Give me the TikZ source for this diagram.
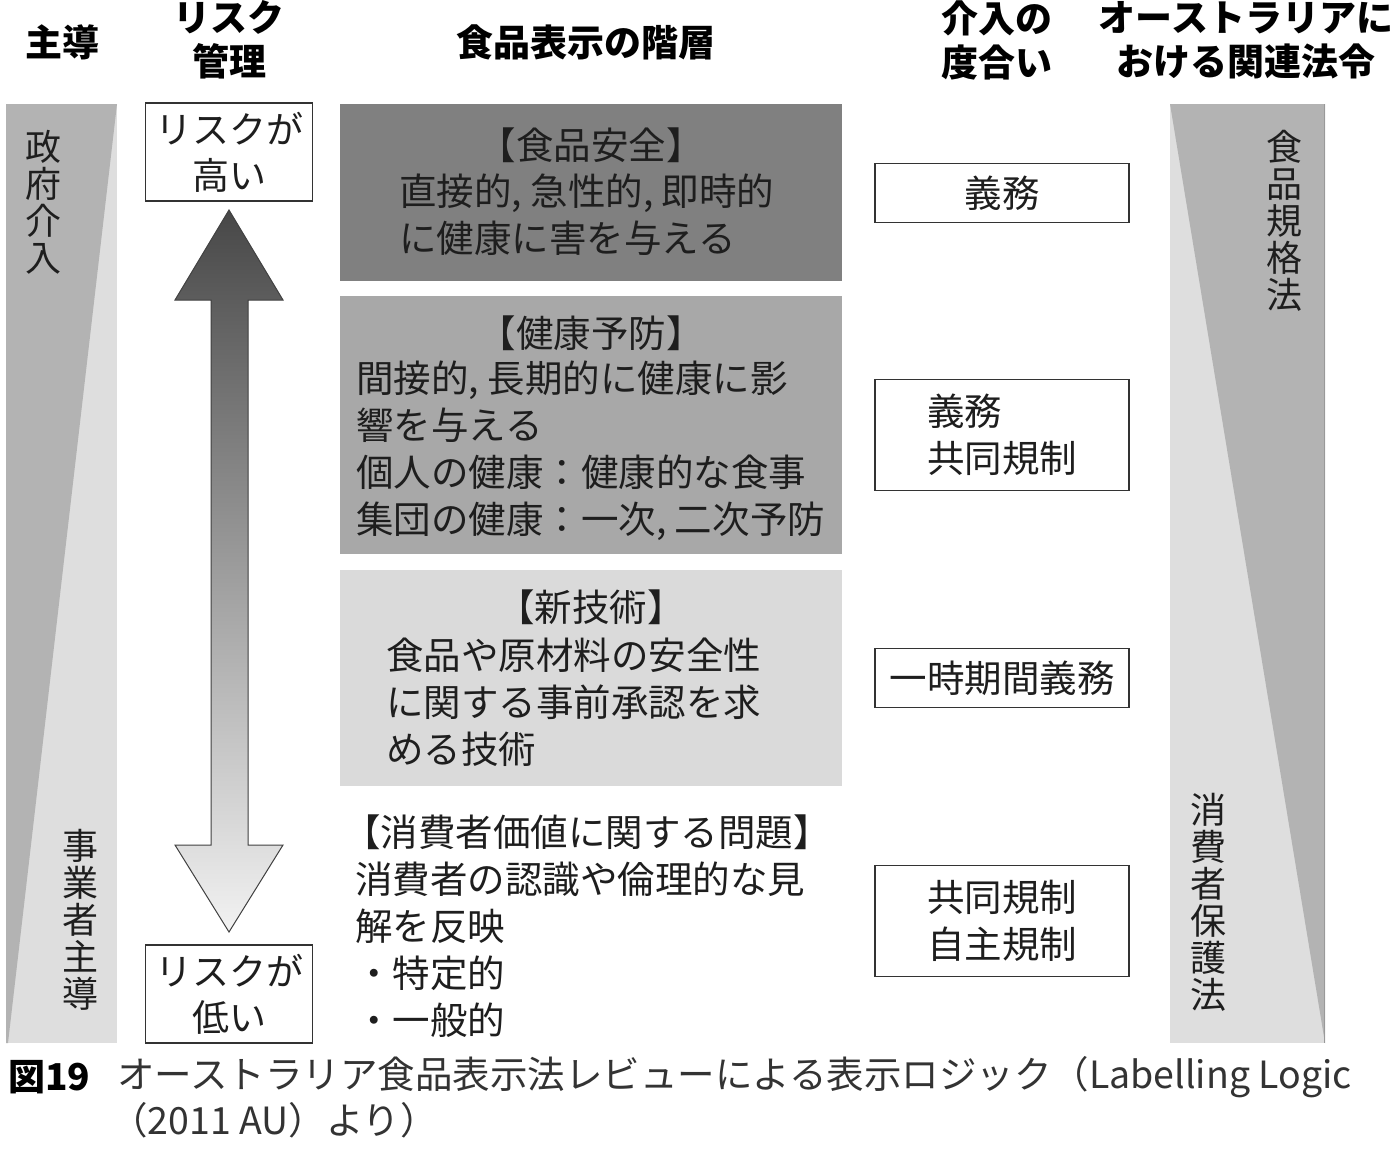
\documentclass[tikz,border=0pt]{standalone}
\usepackage{fontspec}
\setmainfont{Noto Sans CJK JP}
\definecolor{bardark}{HTML}{B3B3B3}
\definecolor{barlight}{HTML}{DEDEDE}
\definecolor{tierA}{HTML}{808080}
\definecolor{tierB}{HTML}{A8A8A8}
\definecolor{tierC}{HTML}{DADADA}
\definecolor{ink}{HTML}{1E1E1E}
\begin{document}
\begin{tikzpicture}[x=1pt,y=-1pt,
  txt/.style={inner sep=0pt, text=ink, font=\fontsize{37.5}{47}\selectfont},
  hdr/.style={inner sep=0pt, text=black, font=\bfseries\fontsize{37}{44}\selectfont, align=center},
  vtxt/.style={inner sep=0pt, text=ink, font=\fontsize{36}{37}\selectfont, align=center},
  rbox/.style={draw=black!80, line width=1.3pt, fill=white, inner sep=0pt, minimum width=254pt},
  riskbox/.style={draw=black!80, line width=1.3pt, fill=white, inner sep=0pt, minimum width=167pt, minimum height=98pt, align=center, text=ink, font=\fontsize{37}{46}\selectfont},
  tier/.style={inner sep=0pt, minimum width=502pt, anchor=north west},
  captxt/.style={inner sep=0pt, anchor=west, text=black!80, font=\fontsize{37.5}{44}\selectfont}]
\useasboundingbox (0,0) rectangle (1393,1154);
\fill[white] (0,0) rectangle (1393,1154);

% headers
\node[hdr] (h1) at (62,42) {主導};
\node[hdr] (h2) at (229,40) {リスク\\管理};
\node[hdr] (h3) at (586,42) {食品表示の階層};
\node[hdr] (h4) at (997,40) {介入の\\度合い};
\node[hdr] (h5) at (1246,40) {オーストラリアに\\おける関連法令};

% left bar
\fill[barlight] (6,104) rectangle (117,1043);
\fill[bardark] (6,104) -- (117,104) -- (8,1043) -- (6,1043) -- cycle;
\node[vtxt] (lt) at (43,202) {政\\府\\介\\入};
\node[vtxt] (lb) at (80,920) {事\\業\\者\\主\\導};

% right bar
\fill[barlight] (1170,104) rectangle (1325,1043);
\fill[bardark] (1170,104) -- (1325,104) -- (1325,1043) -- cycle;
\draw[black!40, line width=1pt] (1324.5,104) -- (1324.5,1043);
\node[vtxt] (rt) at (1284,221) {食\\品\\規\\格\\法};
\node[vtxt] (rb) at (1208,902) {消\\費\\者\\保\\護\\法};

% risk boxes and arrow
\node[riskbox] (hi) at (229,152) {リスクが\\高い};
\node[riskbox] (lo) at (229,994) {リスクが\\低い};
\shade[top color=black!72, bottom color=black!5, draw=black!75, line width=1pt]
  (229,210) -- (283,300) -- (248,300) -- (248,845) -- (283,845) -- (229,932)
  -- (175,845) -- (211,845) -- (211,300) -- (175,300) -- cycle;

% tiers
\node[tier, fill=tierA, minimum height=177pt] (t1) at (340,104) {};
\node[tier, fill=tierB, minimum height=258pt] (t2) at (340,296) {};
\node[tier, fill=tierC, minimum height=216pt] (t3) at (340,570) {};

\node[txt] (t1h) at (591,145) {【食品安全】};
\node[txt, anchor=west, align=left] (t1b) at (399,215) {直接的, 急性的, 即時的\\に健康に害を与える};

\node[txt] (t2h) at (591,333) {【健康予防】};
\node[txt, anchor=west, align=left] (t2b) at (356,451) {間接的, 長期的に健康に影\\響を与える\\個人の健康：健康的な食事\\集団の健康：一次, 二次予防};

\node[txt] (t3h) at (591,607) {【新技術】};
\node[txt, anchor=west, align=left] (t3b) at (386,702) {食品や原材料の安全性\\に関する事前承認を求\\める技術};

\node[txt, anchor=west, align=left] (t4b) at (355,926) {\hspace*{-12pt}【消費者価値に関する問題】\\消費者の認識や倫理的な見\\解を反映\\・特定的\\・一般的};

% right boxes
\node[rbox, minimum height=59pt, txt] (r1) at (1002,193) {義務};
\node[rbox, minimum height=111pt, txt, align=left, text width=254pt] (r2) at (1002,435) {\hspace*{52pt}義務\\\hspace*{52pt}共同規制};
\node[rbox, minimum height=59pt, txt] (r3) at (1002,678) {一時期間義務};
\node[rbox, minimum height=111pt, txt, align=center] (r4) at (1002,921) {共同規制\\自主規制};

% caption
\node[captxt, font=\bfseries\fontsize{37}{44}\selectfont, text=black] (c0) at (8,1077) {図19};
\node[captxt] (c1) at (117,1077) {オーストラリア食品表示法レビューによる表示ロジック（Labelling Logic};
\node[captxt] (c2) at (110,1120) {（2011 AU）より）};
\end{tikzpicture}
\end{document}
